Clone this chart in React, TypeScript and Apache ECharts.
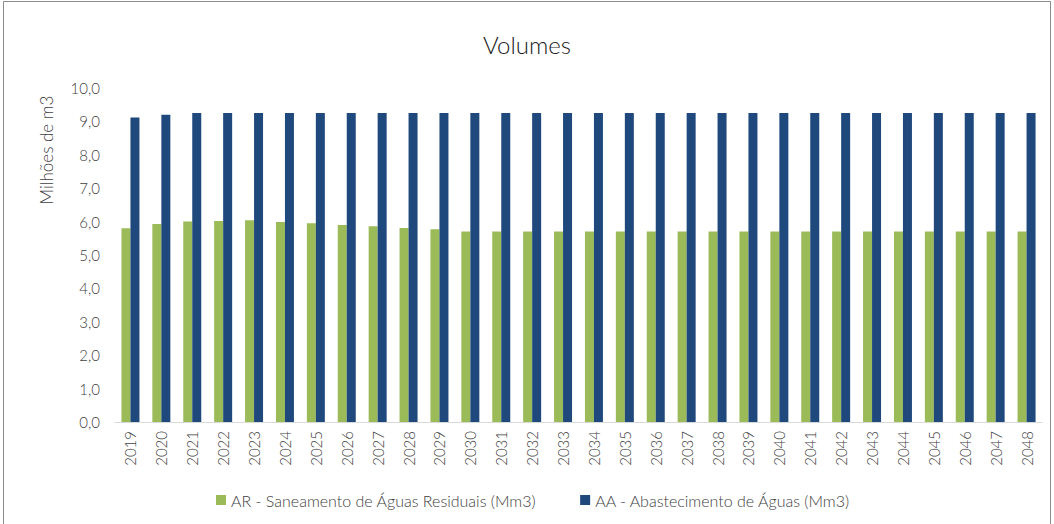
import React, { useEffect, useRef } from "react";
import * as echarts from "echarts";

const years = [
  "2019", "2020", "2021", "2022", "2023", "2024", "2025", "2026", "2027", "2028",
  "2029", "2030", "2031", "2032", "2033", "2034", "2035", "2036", "2037", "2038",
  "2039", "2040", "2041", "2042", "2043", "2044", "2045", "2046", "2047", "2048",
];

const arValues = [
  5.8, 5.93, 6.0, 6.02, 6.04, 5.99, 5.95, 5.9, 5.86, 5.81,
  5.77, 5.7, 5.7, 5.7, 5.7, 5.7, 5.7, 5.7, 5.7, 5.7,
  5.7, 5.7, 5.7, 5.7, 5.7, 5.7, 5.7, 5.7, 5.7, 5.7,
];

const aaValues = [
  9.12, 9.2, 9.25, 9.25, 9.25, 9.25, 9.25, 9.25, 9.25, 9.25,
  9.25, 9.25, 9.25, 9.25, 9.25, 9.25, 9.25, 9.25, 9.25, 9.25,
  9.25, 9.25, 9.25, 9.25, 9.25, 9.25, 9.25, 9.25, 9.25, 9.25,
];

const seriesNames = [
  "AR - Saneamento de Águas Residuais (Mm3)",
  "AA - Abastecimento de Águas (Mm3)",
];

const FONT = "Lato, 'Open Sans', sans-serif";

export default function App() {
  const ref = useRef<HTMLDivElement>(null);

  useEffect(() => {
    if (!ref.current) return;
    const chart = echarts.init(ref.current, null, { renderer: "svg" });
    chart.setOption({
      animation: false,
      backgroundColor: "#ffffff",
      textStyle: { fontFamily: FONT },
      title: {
        text: "Volumes",
        left: "center",
        top: 27,
        textStyle: { fontFamily: FONT, fontSize: 24, fontWeight: 300, color: "#1a1a1a" },
      },
      legend: {
        bottom: 11,
        left: 211,
        itemWidth: 10,
        itemHeight: 10,
        itemGap: 44,
        icon: "rect",
        textStyle: { fontFamily: FONT, fontSize: 16, fontWeight: 300, color: "#404040" },
        data: seriesNames,
      },
      grid: { left: 115, right: 12, top: 88, bottom: 102 },
      xAxis: {
        type: "category",
        data: years,
        axisLine: { lineStyle: { color: "#d9d9d9", width: 1 } },
        axisTick: { show: false },
        axisLabel: {
          rotate: 90,
          fontFamily: FONT,
          fontSize: 15,
          fontWeight: 300,
          color: "#404040",
          margin: 9,
        },
      },
      yAxis: {
        type: "value",
        min: 0,
        max: 10,
        interval: 1,
        splitLine: { show: false },
        axisLine: { show: false },
        axisTick: { show: false },
        axisLabel: {
          fontFamily: FONT,
          fontSize: 15,
          fontWeight: 300,
          color: "#404040",
          margin: 15,
          formatter: (v: number) => v.toFixed(1).replace(".", ","),
        },
      },
      series: [
        {
          name: seriesNames[0],
          type: "bar",
          data: arValues,
          barWidth: 9,
          barGap: "0%",
          itemStyle: { color: "#9bbb59" },
        },
        {
          name: seriesNames[1],
          type: "bar",
          data: aaValues,
          barWidth: 9,
          barGap: "0%",
          itemStyle: { color: "#1f497d" },
        },
      ],
      graphic: [
        {
          type: "rect",
          shape: { x: 3.5, y: 1.5, width: 1047, height: 540 },
          style: { fill: "none", stroke: "#8c8c8c", lineWidth: 1 },
          silent: true,
        },
        {
          type: "text",
          x: 46,
          y: 150,
          rotation: Math.PI / 2,
          style: {
            text: "Milhões de m3",
            fontFamily: FONT,
            fontSize: 17,
            fontWeight: 300,
            fill: "#404040",
            align: "center",
            verticalAlign: "middle",
          },
        },
      ],
    });
    return () => chart.dispose();
  }, []);

  return (
    <div
      ref={ref}
      style={{ position: "fixed", left: 0, top: 0, width: 1054, height: 524 }}
    />
  );
}
